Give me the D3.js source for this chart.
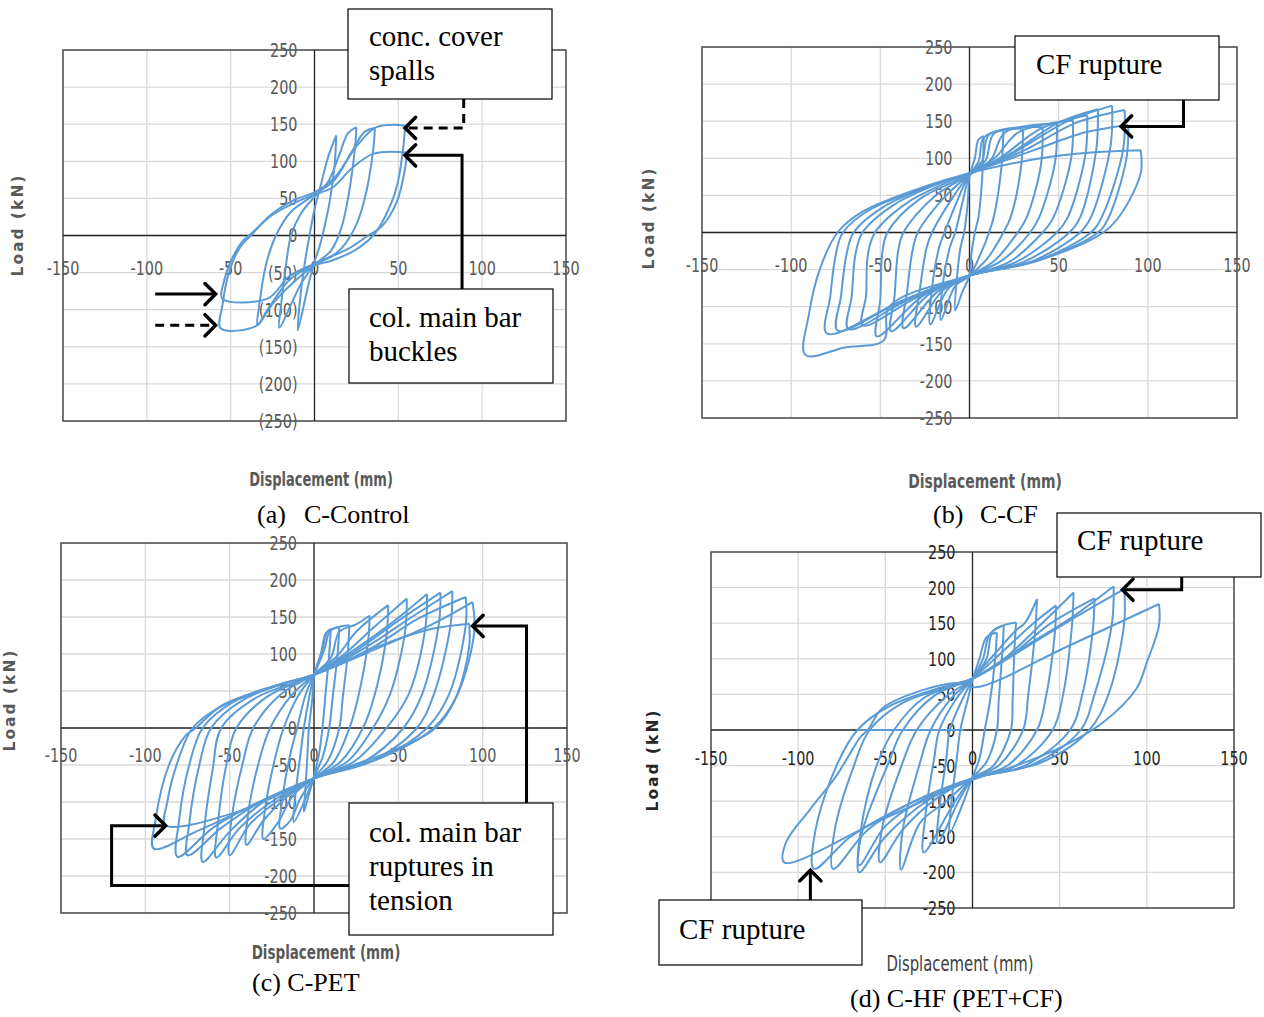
<!DOCTYPE html>
<html>
<head>
<meta charset="utf-8">
<script src="https://cdn.jsdelivr.net/npm/d3@7"></script>
<style>
  body { margin: 0; background: #fff; }
</style>
</head>
<body>
<div id="viz"></div>
<script>
// tick values shared by all four panels
var xTicks = [-150, -100, -50, 0, 50, 100, 150];
var yTicks = [-250, -200, -150, -100, -50, 0, 50, 100, 150, 200, 250];

// hysteresis loops, [displacement mm, load kN]
var controlLoops = [
  [[13,135],[12,95],[9,45],[6,12],[3,-15],[0,-35],[-4,-70],[-10,-128],[-9,-95],[-6,-40],[-3,0],[0,35],[4,70],[8,105],[13,135]],
  [[25,146],[24,115],[20,50],[16,10],[10,-20],[0,-40],[-8,-65],[-21,-124],[-20,-95],[-17,-40],[-14,0],[-8,30],[0,52],[8,72],[15,110],[20,138],[25,146]],
  [[36,145],[35,115],[30,50],[24,10],[14,-22],[0,-40],[-12,-62],[-25,-92],[-34,-121],[-33,-95],[-29,-40],[-23,0],[-14,32],[0,55],[12,75],[22,112],[30,140],[36,145]],
  [[54,148],[53,120],[49,65],[42,25],[35,0],[24,-20],[10,-34],[0,-40],[-15,-60],[-28,-100],[-35,-122],[-56,-125],[-55,-95],[-51,-50],[-45,-18],[-38,0],[-26,28],[-12,48],[0,58],[12,78],[25,120],[36,145],[45,149],[54,148]],
  [[55,112],[54,90],[49,45],[40,12],[32,0],[20,-18],[6,-32],[0,-38],[-15,-55],[-28,-85],[-55,-85],[-54,-62],[-50,-35],[-43,-8],[-38,2],[-25,28],[-10,46],[0,55],[11,65],[22,90],[35,110],[55,112]]
];

var cfLoops = [
  [[8,130],[7,70],[5,20],[3,0],[1,-30],[0,-58],[-4,-80],[-8,-105],[-7,-60],[-5,-20],[-3,0],[-1,40],[0,76],[3,100],[5,125],[8,130]],
  [[19,138],[18,90],[14,25],[11,0],[6,-30],[0,-58],[-8,-72],[-16,-118],[-15,-70],[-11,-20],[-8,0],[-4,40],[0,77],[5,95],[8,128],[19,138]],
  [[30,140],[29,90],[23,20],[19,0],[10,-35],[0,-58],[-12,-76],[-22,-124],[-21,-75],[-17,-20],[-14,0],[-7,42],[0,78],[7,96],[11,132],[30,140]],
  [[41,142],[40,90],[32,20],[27,0],[14,-38],[0,-58],[-15,-78],[-30,-127],[-28,-80],[-24,-20],[-21,0],[-10,45],[0,78],[9,97],[14,134],[41,142]],
  [[49,147],[48,95],[39,20],[34,0],[18,-38],[0,-58],[-18,-80],[-37,-129],[-35,-80],[-32,-25],[-29,0],[-15,45],[0,78],[12,98],[20,135],[49,147]],
  [[58,151],[57,100],[47,20],[41,0],[22,-40],[0,-58],[-22,-82],[-44,-133],[-42,-85],[-40,-25],[-37,0],[-20,48],[0,78],[14,100],[28,136],[58,151]],
  [[66,158],[65,105],[55,20],[49,0],[26,-40],[0,-58],[-26,-85],[-52,-140],[-50,-90],[-49,-30],[-46,0],[-28,45],[0,78],[18,102],[40,140],[66,158]],
  [[72,166],[71,110],[62,20],[56,0],[30,-40],[0,-58],[-30,-88],[-60,-125],[-58,-85],[-57,-30],[-53,0],[-35,40],[-12,68],[0,79],[22,105],[50,148],[72,166]],
  [[80,171],[79,115],[68,20],[62,0],[34,-40],[0,-58],[-34,-90],[-68,-130],[-66,-85],[-64,-30],[-60,0],[-42,38],[-15,68],[0,80],[25,108],[55,150],[80,171]],
  [[87,165],[86,110],[74,20],[68,0],[38,-38],[0,-58],[-38,-92],[-74,-132],[-72,-85],[-69,-30],[-65,0],[-48,35],[-18,66],[0,80],[30,110],[60,148],[87,165]],
  [[89,145],[88,100],[78,20],[72,0],[40,-36],[0,-58],[-40,-95],[-80,-136],[-78,-85],[-75,-30],[-71,0],[-55,32],[-20,64],[0,80],[35,110],[65,135],[89,145]],
  [[96,111],[96,80],[85,25],[75,0],[42,-35],[0,-58],[-45,-100],[-48,-145],[-70,-155],[-92,-165],[-90,-110],[-84,-50],[-74,0],[-60,28],[-25,62],[0,80],[40,100],[70,108],[96,111]]
];

var petLoops = [
  [[10,134],[9,100],[7,50],[5,0],[3,-35],[0,-65],[-3,-90],[-6,-113],[-5,-80],[-4,-40],[-3,0],[-1,40],[0,70],[4,100],[7,128],[10,134]],
  [[15,136],[14,100],[11,40],[9,0],[5,-40],[0,-66],[-5,-95],[-12,-127],[-11,-90],[-8,-35],[-6,0],[-3,40],[0,71],[5,105],[8,130],[15,136]],
  [[21,139],[20,100],[17,40],[15,0],[8,-45],[0,-67],[-8,-95],[-14,-125],[-20,-136],[-19,-100],[-14,-35],[-10,0],[-5,45],[0,72],[6,105],[10,132],[21,139]],
  [[33,152],[32,115],[26,40],[21,0],[12,-45],[0,-68],[-12,-90],[-22,-130],[-30,-150],[-29,-110],[-23,-40],[-18,0],[-9,45],[0,72],[10,95],[15,130],[25,140],[33,152]],
  [[44,166],[43,125],[36,45],[29,0],[16,-45],[0,-68],[-16,-93],[-30,-125],[-40,-158],[-39,-115],[-32,-40],[-26,0],[-13,45],[0,72],[14,98],[25,130],[44,166]],
  [[55,175],[54,130],[45,45],[35,0],[20,-45],[0,-68],[-20,-96],[-38,-130],[-50,-172],[-49,-125],[-42,-45],[-36,0],[-20,45],[0,72],[18,100],[35,135],[55,175]],
  [[67,181],[66,135],[56,45],[43,0],[24,-45],[0,-68],[-24,-98],[-44,-135],[-58,-175],[-57,-130],[-52,-50],[-46,0],[-28,42],[0,72],[22,103],[45,140],[67,181]],
  [[75,183],[74,140],[64,45],[53,0],[30,-45],[0,-68],[-30,-100],[-50,-140],[-66,-181],[-65,-135],[-60,-55],[-55,0],[-35,40],[0,72],[26,106],[50,145],[75,183]],
  [[82,185],[81,140],[71,45],[61,0],[34,-45],[0,-68],[-34,-103],[-55,-135],[-75,-172],[-74,-130],[-68,-50],[-61,0],[-42,38],[-15,62],[0,72],[30,108],[58,150],[82,185]],
  [[90,177],[90,140],[80,45],[67,0],[40,-40],[0,-68],[-38,-106],[-60,-135],[-81,-174],[-80,-125],[-74,-50],[-66,0],[-48,35],[-18,60],[0,72],[34,108],[62,148],[90,177]],
  [[94,170],[95,130],[85,45],[71,0],[44,-36],[0,-68],[-44,-113],[-70,-140],[-95,-163],[-94,-125],[-86,-50],[-76,-10],[-70,0],[-55,30],[-22,58],[0,72],[40,110],[70,140],[94,170]],
  [[92,141],[92,110],[84,40],[72,0],[45,-32],[0,-68],[-45,-113],[-88,-131],[-87,-100],[-80,-40],[-72,0],[-56,28],[-22,58],[0,72],[40,112],[70,134],[92,141]]
];

var hfLoops = [
  [[14,137],[13,100],[10,40],[7,0],[4,-40],[0,-66],[-5,-100],[-13,-144],[-12,-100],[-9,-40],[-7,0],[-3,40],[0,70],[4,100],[8,130],[14,137]],
  [[18,147],[17,105],[15,40],[14,0],[8,-45],[0,-67],[-8,-100],[-20,-158],[-19,-110],[-15,-40],[-13,0],[-6,42],[0,71],[6,100],[10,135],[18,147]],
  [[25,151],[24,110],[23,40],[22,0],[12,-50],[0,-68],[-10,-100],[-28,-172],[-27,-120],[-22,-40],[-19,0],[-9,45],[0,72],[8,100],[12,140],[25,151]],
  [[37,184],[36,140],[32,50],[29,0],[15,-50],[0,-68],[-15,-100],[-30,-130],[-41,-196],[-40,-140],[-30,-45],[-24,0],[-12,45],[0,72],[12,105],[25,140],[30,150],[37,184]],
  [[48,175],[47,130],[42,45],[37,0],[20,-50],[0,-68],[-20,-95],[-40,-140],[-53,-186],[-52,-140],[-40,-45],[-32,0],[-16,45],[0,72],[15,105],[35,150],[48,175]],
  [[58,193],[57,145],[52,50],[46,0],[25,-50],[0,-68],[-25,-98],[-50,-150],[-65,-200],[-64,-150],[-48,-45],[-40,0],[-22,48],[0,72],[18,100],[40,150],[58,193]],
  [[70,185],[69,140],[63,50],[56,0],[30,-50],[0,-68],[-30,-100],[-50,-135],[-65,-190],[-64,-140],[-55,-50],[-45,0],[-28,45],[0,72],[22,105],[45,150],[70,185]],
  [[81,202],[80,150],[70,50],[62,0],[35,-48],[0,-68],[-35,-102],[-60,-140],[-80,-195],[-79,-140],[-68,-50],[-59,0],[-40,38],[0,72],[25,110],[55,155],[81,202]],
  [[87,198],[87,150],[78,50],[67,0],[40,-45],[0,-68],[-40,-108],[-70,-150],[-91,-195],[-90,-140],[-78,-50],[-66,0],[-48,33],[-15,62],[0,72],[30,115],[60,160],[87,198]],
  [[107,177],[107,147],[100,95],[94,58],[75,11],[50,-25],[25,-50],[0,-70],[-54,-128],[-108,-186],[-107,-158],[-93,-111],[-78,-64],[-64,-9],[-60,0],[-52,30],[-30,55],[-8,66],[2,60],[55,118],[107,177]],
  [[-66,0],[-35,0],[-5,0]]
];

// arrows in data units of their panel
var controlArrows = [
  {pts: [[89,184],[89,145],[54,145]], dash: true},
  {pts: [[88,-72],[88,108],[54,108]], dash: false},
  {pts: [[-95,-79],[-59,-79]], dash: false},
  {pts: [[-95,-121],[-59,-121]], dash: true}
];
var cfArrows = [
  {pts: [[120,179],[120,143],[85,143]], dash: false}
];
var petArrows = [
  {pts: [[126,-101],[126,138],[94,138]], dash: false},
  {pts: [[21,-213],[-120,-213],[-120,-132],[-88,-132]], dash: false}
];
var hfArrows = [
  {pts: [[120,215],[120,197],[86,197]], dash: false},
  {pts: [[-93,-239],[-93,-197]], dash: false}
];

var panels = [
  {loops: controlLoops, arrows: controlArrows, l: 63, r: 566, t: 50, b: 421, paren: true, xLabDy: 33,
   loadPos: [17, 225], dispPos: [321, 479], dispSize: 14.5, dispBold: true, titleColor: "#595959", tickColor: "#595959"},
  {loops: cfLoops, arrows: cfArrows, l: 702, r: 1237, t: 47, b: 418, paren: false, xLabDy: 33,
   loadPos: [648, 218], dispPos: [985, 481], dispSize: 15.5, dispBold: true, titleColor: "#595959", tickColor: "#595959"},
  {loops: petLoops, arrows: petArrows, l: 61, r: 567, t: 543, b: 913, paren: false, xLabDy: 27,
   loadPos: [9, 700], dispPos: [326, 952], dispSize: 15, dispBold: true, titleColor: "#595959", tickColor: "#595959"},
  {loops: hfLoops, arrows: hfArrows, l: 711, r: 1234, t: 552, b: 908, paren: false, xLabDy: 28,
   loadPos: [652, 760], dispPos: [960, 963], dispSize: 16.5, dispBold: false, titleColor: "#262626", tickColor: "#262626"}
];

var svg = d3.select("#viz")
    .append("svg")
    .attr("width", 1264)
    .attr("height", 1017);

var tickFont = "'DejaVu Sans Condensed', 'DejaVu Sans', sans-serif";
var serif = "'Liberation Serif', 'Times New Roman', serif";

panels.forEach(function(p){
  var x = d3.scaleLinear().domain([-150, 150]).range([p.l, p.r]);
  var y = d3.scaleLinear().domain([-250, 250]).range([p.b, p.t]);
  p.x = x; p.y = y;
  var g = svg.append("g");

  // grid
  g.selectAll("line.vg").data(xTicks).enter().append("line")
      .attr("x1", function(d){ return x(d); }).attr("x2", function(d){ return x(d); })
      .attr("y1", p.t).attr("y2", p.b)
      .style("stroke", "#d9d9d9").style("stroke-width", 1.3);
  g.selectAll("line.hg").data(yTicks).enter().append("line")
      .attr("y1", function(d){ return y(d); }).attr("y2", function(d){ return y(d); })
      .attr("x1", p.l).attr("x2", p.r)
      .style("stroke", "#d9d9d9").style("stroke-width", 1.3);

  // frame and zero axes
  g.append("rect")
      .attr("x", p.l).attr("y", p.t)
      .attr("width", p.r - p.l).attr("height", p.b - p.t)
      .style("fill", "none").style("stroke", "#4d4d4d").style("stroke-width", 1.5);
  g.append("line").attr("x1", x(0)).attr("x2", x(0)).attr("y1", p.t).attr("y2", p.b)
      .style("stroke", "#262626").style("stroke-width", 1.3);
  g.append("line").attr("y1", y(0)).attr("y2", y(0)).attr("x1", p.l).attr("x2", p.r)
      .style("stroke", "#262626").style("stroke-width", 1.5);

  // tick labels
  g.selectAll("text.yl").data(yTicks).enter().append("text")
      .attr("transform", function(d){ return "translate(" + (x(0) - 17) + "," + y(d) + ") scale(1,1.2)"; })
      .attr("dy", "0.36em")
      .attr("text-anchor", "end")
      .style("font-family", tickFont).style("font-size", "16px").style("fill", p.tickColor)
      .text(function(d){ return (p.paren && d < 0) ? "(" + (-d) + ")" : String(d); });
  g.selectAll("text.xl").data(xTicks).enter().append("text")
      .attr("transform", function(d){ return "translate(" + x(d) + "," + (y(0) + p.xLabDy) + ") scale(1,1.2)"; })
      .attr("dy", "0.36em")
      .attr("text-anchor", "middle")
      .style("font-family", tickFont).style("font-size", "16px").style("fill", p.tickColor)
      .text(function(d){ return String(d); });

  // curves
  var line = d3.line()
      .x(function(d){ return x(d[0]); })
      .y(function(d){ return y(d[1]); })
      .curve(d3.curveCatmullRom.alpha(0.5));
  g.selectAll("path.loop").data(p.loops).enter().append("path")
      .attr("d", line)
      .style("fill", "none").style("stroke", "#5b9bd5").style("stroke-width", 2)
      .style("stroke-linejoin", "round");

  // axis titles
  g.append("text")
      .attr("transform", "translate(" + p.loadPos[0] + "," + p.loadPos[1] + ") rotate(-90)")
      .attr("dy", "0.36em").attr("text-anchor", "middle")
      .style("font-family", "'DejaVu Sans', sans-serif").style("font-weight", "bold")
      .style("font-size", "15.5px").style("letter-spacing", "2px").style("fill", p.titleColor)
      .text("Load (kN)");
  g.append("text")
      .attr("transform", "translate(" + p.dispPos[0] + "," + p.dispPos[1] + ") scale(1,1.3)")
      .attr("dy", "0.36em").attr("text-anchor", "middle")
      .style("font-family", tickFont).style("font-weight", p.dispBold ? "bold" : "normal")
      .style("font-size", p.dispSize + "px").style("fill", p.dispBold ? "#595959" : "#404040")
      .text("Displacement (mm)");
});

// annotation boxes
var boxes = [
  {x: 348, y: 9, w: 204, h: 90, lines: ["conc. cover", "spalls"], tx: 369, ty: 46},
  {x: 349, y: 289, w: 204, h: 94, lines: ["col. main bar", "buckles"], tx: 369, ty: 327},
  {x: 1015, y: 36, w: 204, h: 64, lines: ["CF rupture"], tx: 1036, ty: 74},
  {x: 349, y: 803, w: 204, h: 132, lines: ["col. main bar", "ruptures in", "tension"], tx: 369, ty: 842},
  {x: 1057, y: 513, w: 204, h: 64, lines: ["CF rupture"], tx: 1077, ty: 550},
  {x: 659, y: 900, w: 203, h: 65, lines: ["CF rupture"], tx: 679, ty: 939}
];

// arrows first so boxes sit on top where they meet
panels.forEach(function(p){
  p.arrows.forEach(function(a){
    var pts = a.pts.map(function(d){ return [p.x(d[0]), p.y(d[1])]; });
    svg.append("path")
        .attr("d", d3.line()(pts))
        .style("fill", "none").style("stroke", "#000").style("stroke-width", 3)
        .style("stroke-dasharray", a.dash ? "9,6" : null);
    var tip = pts[pts.length - 1], prev = pts[pts.length - 2];
    var ang = Math.atan2(tip[1] - prev[1], tip[0] - prev[0]);
    var len = 15, spread = Math.PI / 4;
    var h1 = [tip[0] - len * Math.cos(ang - spread), tip[1] - len * Math.sin(ang - spread)];
    var h2 = [tip[0] - len * Math.cos(ang + spread), tip[1] - len * Math.sin(ang + spread)];
    svg.append("path")
        .attr("d", d3.line()([h1, tip, h2]))
        .style("fill", "none").style("stroke", "#000").style("stroke-width", 3.5)
        .style("stroke-linecap", "round").style("stroke-linejoin", "miter");
  });
});

boxes.forEach(function(b){
  svg.append("rect")
      .attr("x", b.x).attr("y", b.y).attr("width", b.w).attr("height", b.h)
      .style("fill", "#fff").style("stroke", "#000").style("stroke-width", 1.2);
  b.lines.forEach(function(t, i){
    svg.append("text")
        .attr("x", b.tx).attr("y", b.ty + i * 34)
        .style("font-family", serif).style("font-size", "29px").style("fill", "#000")
        .text(t);
  });
});

// captions
var captions = [
  {parts: [["(a)", 257], ["C-Control", 304]], y: 523},
  {parts: [["(b)", 933], ["C-CF", 980]], y: 523},
  {parts: [["(c) C-PET", 252]], y: 991},
  {parts: [["(d) C-HF (PET+CF)", 850]], y: 1007}
];
captions.forEach(function(c){
  c.parts.forEach(function(pt){
    svg.append("text")
        .attr("x", pt[1]).attr("y", c.y)
        .style("font-family", serif).style("font-size", "26px").style("fill", "#000")
        .text(pt[0]);
  });
});
</script>
</body>
</html>
